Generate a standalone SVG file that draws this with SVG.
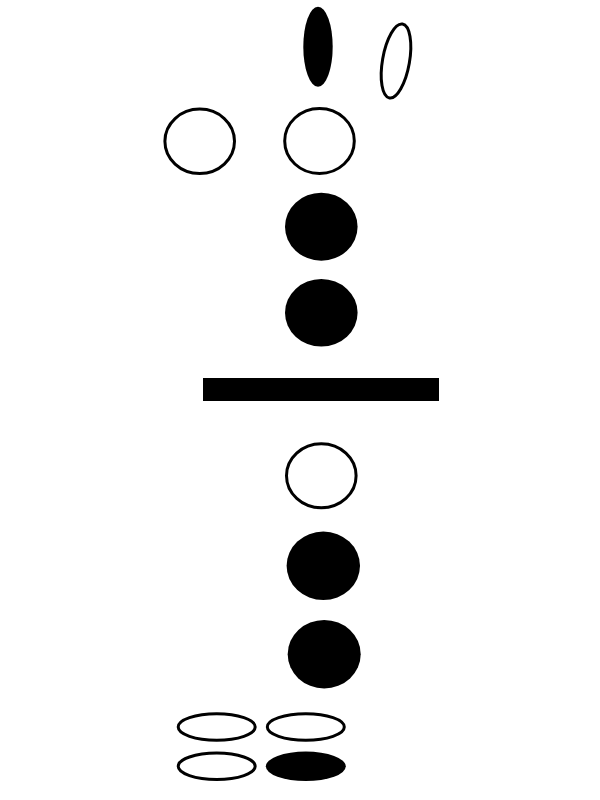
<svg xmlns="http://www.w3.org/2000/svg" width="600" height="800" viewBox="0 0 600 800">
<style>
.o{fill:#fff;stroke:#000;stroke-width:3}
.f{fill:#000;stroke:none}
</style>
<rect width="600" height="800" fill="#fff"/>
<ellipse class="f" cx="318" cy="46.7" rx="14.7" ry="40"/>
<ellipse class="o" cx="396" cy="61" rx="13.5" ry="37.5" transform="rotate(10 396 61)"/>
<ellipse class="o" cx="199.7" cy="141.3" rx="34.8" ry="32.2"/>
<ellipse class="o" cx="319.5" cy="141" rx="34.8" ry="32.5"/>
<ellipse class="f" cx="321.3" cy="226.7" rx="36.3" ry="34"/>
<ellipse class="f" cx="321.3" cy="312.8" rx="36.3" ry="33.8"/>
<rect class="f" x="203" y="378" width="236" height="23"/>
<ellipse class="o" cx="321.3" cy="475.8" rx="34.8" ry="32"/>
<ellipse class="f" cx="323.3" cy="565.8" rx="36.7" ry="34.2"/>
<ellipse class="f" cx="324.2" cy="654.2" rx="36.5" ry="34.2"/>
<ellipse class="o" cx="216.7" cy="727" rx="38.5" ry="13.2"/>
<ellipse class="o" cx="305.8" cy="727" rx="38.5" ry="13.2"/>
<ellipse class="o" cx="216.7" cy="766.3" rx="38.5" ry="13.2"/>
<ellipse class="f" cx="305.8" cy="766.3" rx="40" ry="14.7"/>
</svg>
